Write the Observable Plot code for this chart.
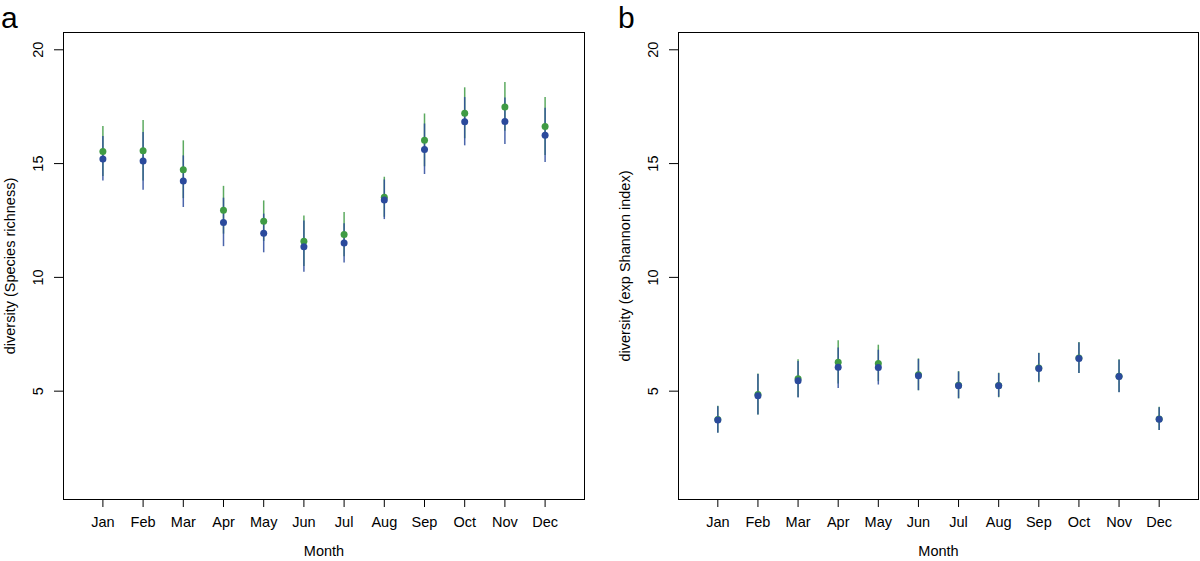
<!DOCTYPE html>
<html>
<head>
<meta charset="utf-8">
<script src="https://cdn.jsdelivr.net/npm/d3@7"></script>
<script src="https://cdn.jsdelivr.net/npm/@observablehq/plot@0.6"></script>
<style>
  html, body { margin: 0; padding: 0; background: #fff; }
  #wrap { position: relative; width: 1200px; height: 561px; overflow: hidden; font-family: "Liberation Sans", Arial, Helvetica, sans-serif; }
  .panel { position: absolute; top: 0; }
  .tag { position: absolute; font-size: 30px; line-height: 1; color: #000; }
</style>
</head>
<body>
<div id="wrap">
  <div class="tag" id="tagA" style="left:1px; top:3px;">a</div>
  <div class="tag" id="tagB" style="left:618px; top:3px;">b</div>
  <div class="panel" id="pa" style="left:0px;"></div>
  <div class="panel" id="pb" style="left:615px;"></div>
</div>
<script>
const months = ["Jan","Feb","Mar","Apr","May","Jun","Jul","Aug","Sep","Oct","Nov","Dec"];
const yTicks = [5, 10, 15, 20];
const panelLabels = ["a", "b"];
const yTitles = ["diversity (Species richness)", "diversity (exp Shannon index)"];
const xTitle = "Month";

// Panel a: species richness
const greenA   = [15.53,15.56,14.73,12.95,12.47,11.59,11.88,13.52,16.02,17.21,17.49,16.63];
const greenAHi = [16.63,16.89,16.00,14.00,13.36,12.70,12.85,14.40,17.18,18.33,18.56,17.90];
const greenALo = [14.43,14.23,13.46,11.90,11.58,10.48,10.91,12.64,14.86,16.09,16.42,15.36];
const blueA    = [15.20,15.11,14.23,12.41,11.94,11.35,11.51,13.40,15.62,16.84,16.85,16.24];
const blueAHi  = [16.19,16.37,15.34,13.48,12.78,12.48,12.36,14.28,16.74,17.90,17.88,17.43];
const blueALo  = [14.23,13.83,13.07,11.35,11.08,10.22,10.63,12.54,14.52,15.78,15.84,15.05];

// Panel b: exp Shannon index
const greenB   = [3.75,4.85,5.55,6.27,6.22,5.72,5.26,5.25,6.02,6.46,5.66,3.78];
const greenBHi = [4.34,5.75,6.38,7.22,7.02,6.42,5.86,5.79,6.67,7.14,6.38,4.29];
const greenBLo = [3.16,3.95,4.72,5.32,5.42,5.02,4.66,4.71,5.37,5.78,4.94,3.27];
const blueB    = [3.73,4.80,5.46,6.05,6.04,5.68,5.24,5.24,6.00,6.44,5.64,3.77];
const blueBHi  = [4.32,5.73,6.30,6.90,6.80,6.39,5.84,5.77,6.65,7.12,6.36,4.27];
const blueBLo  = [3.15,3.95,4.70,5.12,5.27,5.02,4.67,4.73,5.40,5.78,4.93,3.27];

const GREEN = "#3f9b44";
const BLUE = "#2b4a9c";
const FONT = "Liberation Sans, Arial, Helvetica, sans-serif";
const FS = 14.5;

document.getElementById("tagA").textContent = panelLabels[0];
document.getElementById("tagB").textContent = panelLabels[1];

function rows(mean, lo, hi) {
  return months.map((m, i) => ({ m: i + 1, y: mean[i], lo: lo[i], hi: hi[i] }));
}

function panel(g, b, yTitle, width, marginRight) {
  return Plot.plot({
    width: width,
    height: 561,
    marginLeft: 63,
    marginRight: marginRight,
    marginTop: 32,
    marginBottom: 62,
    style: { fontFamily: FONT, fontSize: FS + "px", color: "#000", background: "transparent" },
    x: { domain: [0.02, 12.98], axis: null },
    y: { domain: [0.24, 20.76], axis: null },
    marks: [
      Plot.frame({ stroke: "#000", strokeWidth: 1 }),
      Plot.axisX(months.map((d, i) => i + 1), {
        tickSize: 8, tickPadding: 9, tickFormat: (d) => months[d - 1],
        fontSize: FS, stroke: "#000", label: null
      }),
      Plot.axisY(yTicks, { tickSize: 9, tickFormat: () => "", label: null }),
      Plot.text(yTicks, {
        y: (d) => d, text: (d) => String(d), frameAnchor: "left", dx: -21,
        rotate: -90, lineAnchor: "bottom", textAnchor: "middle", fontSize: FS, fill: "#000"
      }),
      Plot.text([yTitle], {
        text: (d) => d, frameAnchor: "left", dx: -49, rotate: -90,
        lineAnchor: "bottom", textAnchor: "middle", fontSize: FS, fill: "#000"
      }),
      Plot.text([xTitle], {
        text: (d) => d, frameAnchor: "bottom", dy: 52, lineAnchor: "middle",
        textAnchor: "middle", fontSize: FS, fill: "#000"
      }),
      Plot.ruleX(g, { x: "m", y1: "lo", y2: "hi", stroke: GREEN, strokeWidth: 1.5, strokeOpacity: 0.85 }),
      Plot.ruleX(b, { x: "m", y1: "lo", y2: "hi", stroke: BLUE, strokeWidth: 1.5, strokeOpacity: 0.85 }),
      Plot.dot(g, { x: "m", y: "y", fill: GREEN, r: 3.5, stroke: "none" }),
      Plot.dot(b, { x: "m", y: "y", fill: BLUE, r: 3.5, stroke: "none" })
    ]
  });
}

document.getElementById("pa").appendChild(
  panel(rows(greenA, greenALo, greenAHi), rows(blueA, blueALo, blueAHi), yTitles[0], 600, 16)
);
document.getElementById("pb").appendChild(
  panel(rows(greenB, greenBLo, greenBHi), rows(blueB, blueBLo, blueBHi), yTitles[1], 585, 2)
);
</script>
</body>
</html>
